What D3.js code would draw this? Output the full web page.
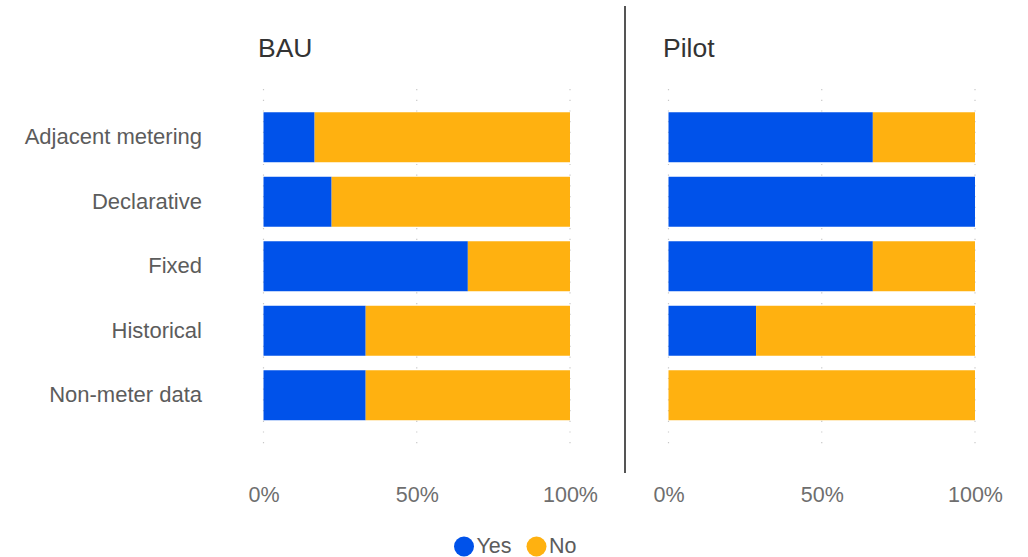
<!DOCTYPE html>
<html>
<head>
<meta charset="utf-8">
<script src="https://cdn.jsdelivr.net/npm/d3@7/dist/d3.min.js"></script>
<style>
  html, body { margin: 0; padding: 0; background: #fff; }
  svg { display: block; font-family: Arial, "Liberation Sans", sans-serif; }
</style>
</head>
<body>
<svg id="chart" width="1028" height="557"></svg>
<script>
const categories = ["Adjacent metering", "Declarative", "Fixed", "Historical", "Non-meter data"];
const panels = ["BAU", "Pilot"];
const seriesNames = ["Yes", "No"];
// share of "Yes" answers per category (remainder is "No")
const bauYes = [1/6, 2/9, 2/3, 1/3, 1/3];
const bauNo = [5/6, 7/9, 1/3, 2/3, 2/3];
const pilotYes = [2/3, 1, 2/3, 2/7, 0];
const pilotNo = [1/3, 0, 1/3, 5/7, 1];
const tickValues = [0, 0.5, 1];
const tickLabels = ["0%", "50%", "100%"];
const colors = ["#0052ea", "#ffb110"];

const svg = d3.select("#chart");

const y = d3.scaleBand().domain(categories).range([105, 427.5]).paddingInner(0.225).paddingOuter(0.1125);
const color = d3.scaleOrdinal().domain(seriesNames).range(colors);

const panelDefs = [
  { name: panels[0], x0: 263.5, yes: bauYes, no: bauNo },
  { name: panels[1], x0: 668.5, yes: pilotYes, no: pilotNo }
];

panelDefs.forEach((p, pi) => {
  const x = d3.scaleLinear().domain([0, 1]).range([p.x0, p.x0 + 306.5]);
  const g = svg.append("g");

  // gridlines (dotted)
  g.selectAll("line.grid").data(tickValues).join("line")
    .attr("class", "grid")
    .attr("x1", d => x(d)).attr("x2", d => x(d))
    .attr("y1", 89).attr("y2", 448)
    .attr("stroke", "#c8c8c8").attr("stroke-width", 1.2)
    .attr("stroke-dasharray", "1.2,9.5");

  // stacked data
  const rows = categories.map((c, i) => ({ cat: c, Yes: p.yes[i], No: p.no[i] }));
  const stacked = d3.stack().keys(seriesNames)(rows);
  g.selectAll("g.series").data(stacked).join("g")
    .attr("class", "series")
    .attr("fill", d => color(d.key))
    .selectAll("rect").data(d => d).join("rect")
    .attr("x", d => x(d[0]))
    .attr("width", d => Math.max(0, x(d[1]) - x(d[0])))
    .attr("y", d => y(d.data.cat))
    .attr("height", y.bandwidth());

  // x axis labels
  const axis = d3.axisBottom(x).tickValues(tickValues).tickFormat((d, i) => tickLabels[i]).tickSize(0).tickPadding(0);
  const ag = g.append("g").attr("transform", "translate(0,480)").call(axis);
  ag.select(".domain").remove();
  ag.selectAll("text")
    .attr("font-size", 21.5).attr("fill", "#6e6e6e")
    .attr("font-family", "Arial, 'Liberation Sans', sans-serif")
    .attr("dy", "0.72em").attr("y", 7);

  // panel title
  svg.append("text")
    .attr("x", p.x0 - 5.5).attr("y", 57)
    .attr("font-size", 26.5).attr("fill", "#333")
    .text(p.name);
});

// category labels (left)
const yAxis = d3.axisLeft(y).tickSize(0).tickPadding(0);
const yg = svg.append("g").attr("transform", "translate(202,0)").call(yAxis);
yg.select(".domain").remove();
yg.selectAll("text")
  .attr("font-size", 22).attr("fill", "#5c5c5c")
  .attr("font-family", "Arial, 'Liberation Sans', sans-serif");

// divider
svg.append("line")
  .attr("x1", 625).attr("x2", 625).attr("y1", 6).attr("y2", 473)
  .attr("stroke", "#555").attr("stroke-width", 2);

// legend
const legendItems = [
  { name: seriesNames[0], cx: 464 },
  { name: seriesNames[1], cx: 536.5 }
];
const lg = svg.append("g");
legendItems.forEach(it => {
  lg.append("circle").attr("cx", it.cx).attr("cy", 546.5).attr("r", 10).attr("fill", color(it.name));
  lg.append("text").attr("x", it.cx + 12.5).attr("y", 552.5)
    .attr("font-size", 21.5).attr("fill", "#5c5c5c").text(it.name);
});
</script>
</body>
</html>
